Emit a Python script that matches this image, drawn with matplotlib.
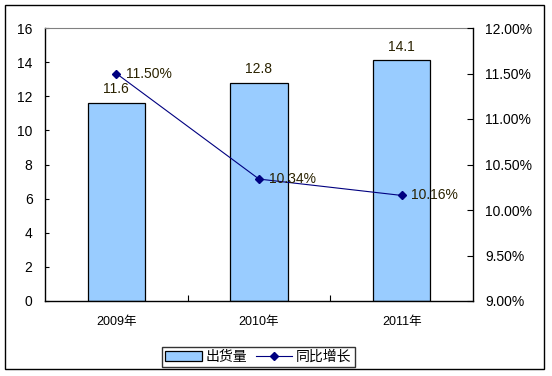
import matplotlib
matplotlib.use("Agg")
import matplotlib.pyplot as plt
from matplotlib.patches import Rectangle
from matplotlib.ticker import FuncFormatter

plt.rcParams['font.family'] = ['Liberation Sans', 'Noto Sans CJK SC', 'DejaVu Sans']

categories = ["2009年", "2010年", "2011年"]
shipments = [11.6, 12.8, 14.1]
growth = [11.50, 10.34, 10.16]
bar_labels = ["11.6", "12.8", "14.1"]
growth_labels = ["11.50%", "10.34%", "10.16%"]
series_names = ["出货量", "同比增长"]

W, H = 552, 376
fig = plt.figure(figsize=(W / 100, H / 100), dpi=100)
fig.patch.set_facecolor("white")
fig.patches.append(Rectangle((5 / W, 1 - 369 / H), 539 / W, 364 / H,
                             transform=fig.transFigure, fill=False,
                             edgecolor="black", linewidth=1.0))

ax = fig.add_axes([45 / W, 1 - 301 / H, 428 / W, 273 / H])
x = list(range(len(categories)))
bars = ax.bar(x, shipments, width=0.4, color="#99CCFF", edgecolor="black",
              linewidth=0.9, label=series_names[0], zorder=2)
ax.set_xlim(-0.5, 2.5)
ax.set_ylim(0, 16)
ax.set_yticks(range(0, 17, 2))
ax.set_xticks([0.5, 1.5])
ax.set_xticklabels([])
ax.tick_params(axis='x', direction='in', length=4, width=0.8)
ax.tick_params(axis='y', direction='in', length=3, width=0.8, labelsize=10, pad=9)
for i, c in enumerate(categories):
    ax.text(i, -0.078, c, transform=ax.get_xaxis_transform(), ha='center',
            va='center', fontsize=9)
ax.spines['top'].set_color('#808080')
ax.spines['right'].set_visible(False)
for s in ['left', 'bottom']:
    ax.spines[s].set_linewidth(1.0)
for i, (v, lab) in enumerate(zip(shipments, bar_labels)):
    ax.annotate(lab, (i, v), xytext=(0, 10), textcoords='offset points',
                ha='center', va='center', fontsize=10, color='#2a2200')

ax2 = ax.twinx()
ax2.set_ylim(9.0, 12.0)
ax2.set_yticks([9.0, 9.5, 10.0, 10.5, 11.0, 11.5, 12.0])
ax2.yaxis.set_major_formatter(FuncFormatter(lambda v, p: f"{v:.2f}%"))
ax2.tick_params(axis='y', direction='in', length=4, width=0.8, labelsize=10, pad=9)
for s in ['top', 'left', 'bottom']:
    ax2.spines[s].set_visible(False)
ax2.spines['right'].set_linewidth(1.0)
line, = ax2.plot(x, growth, color="#000080", marker='D', markersize=4,
                 linewidth=0.8, label=series_names[1], zorder=3)
for i, (v, lab) in enumerate(zip(growth, growth_labels)):
    ax2.annotate(lab, (i, v), xytext=(7, 0), textcoords='offset points',
                 ha='left', va='center', fontsize=10, color='#2a2200')

leg = fig.legend([bars, line], series_names, loc='center',
                 bbox_to_anchor=((167 + 350) / 2 / W, 1 - 357 / H),
                 ncol=2, frameon=True, fancybox=False, fontsize=10,
                 handlelength=2.6, handletextpad=0.3, columnspacing=0.6,
                 borderpad=0.25, edgecolor='black')
leg.get_frame().set_linewidth(1.0)

fig.savefig("out.png", dpi=100, facecolor="white")
